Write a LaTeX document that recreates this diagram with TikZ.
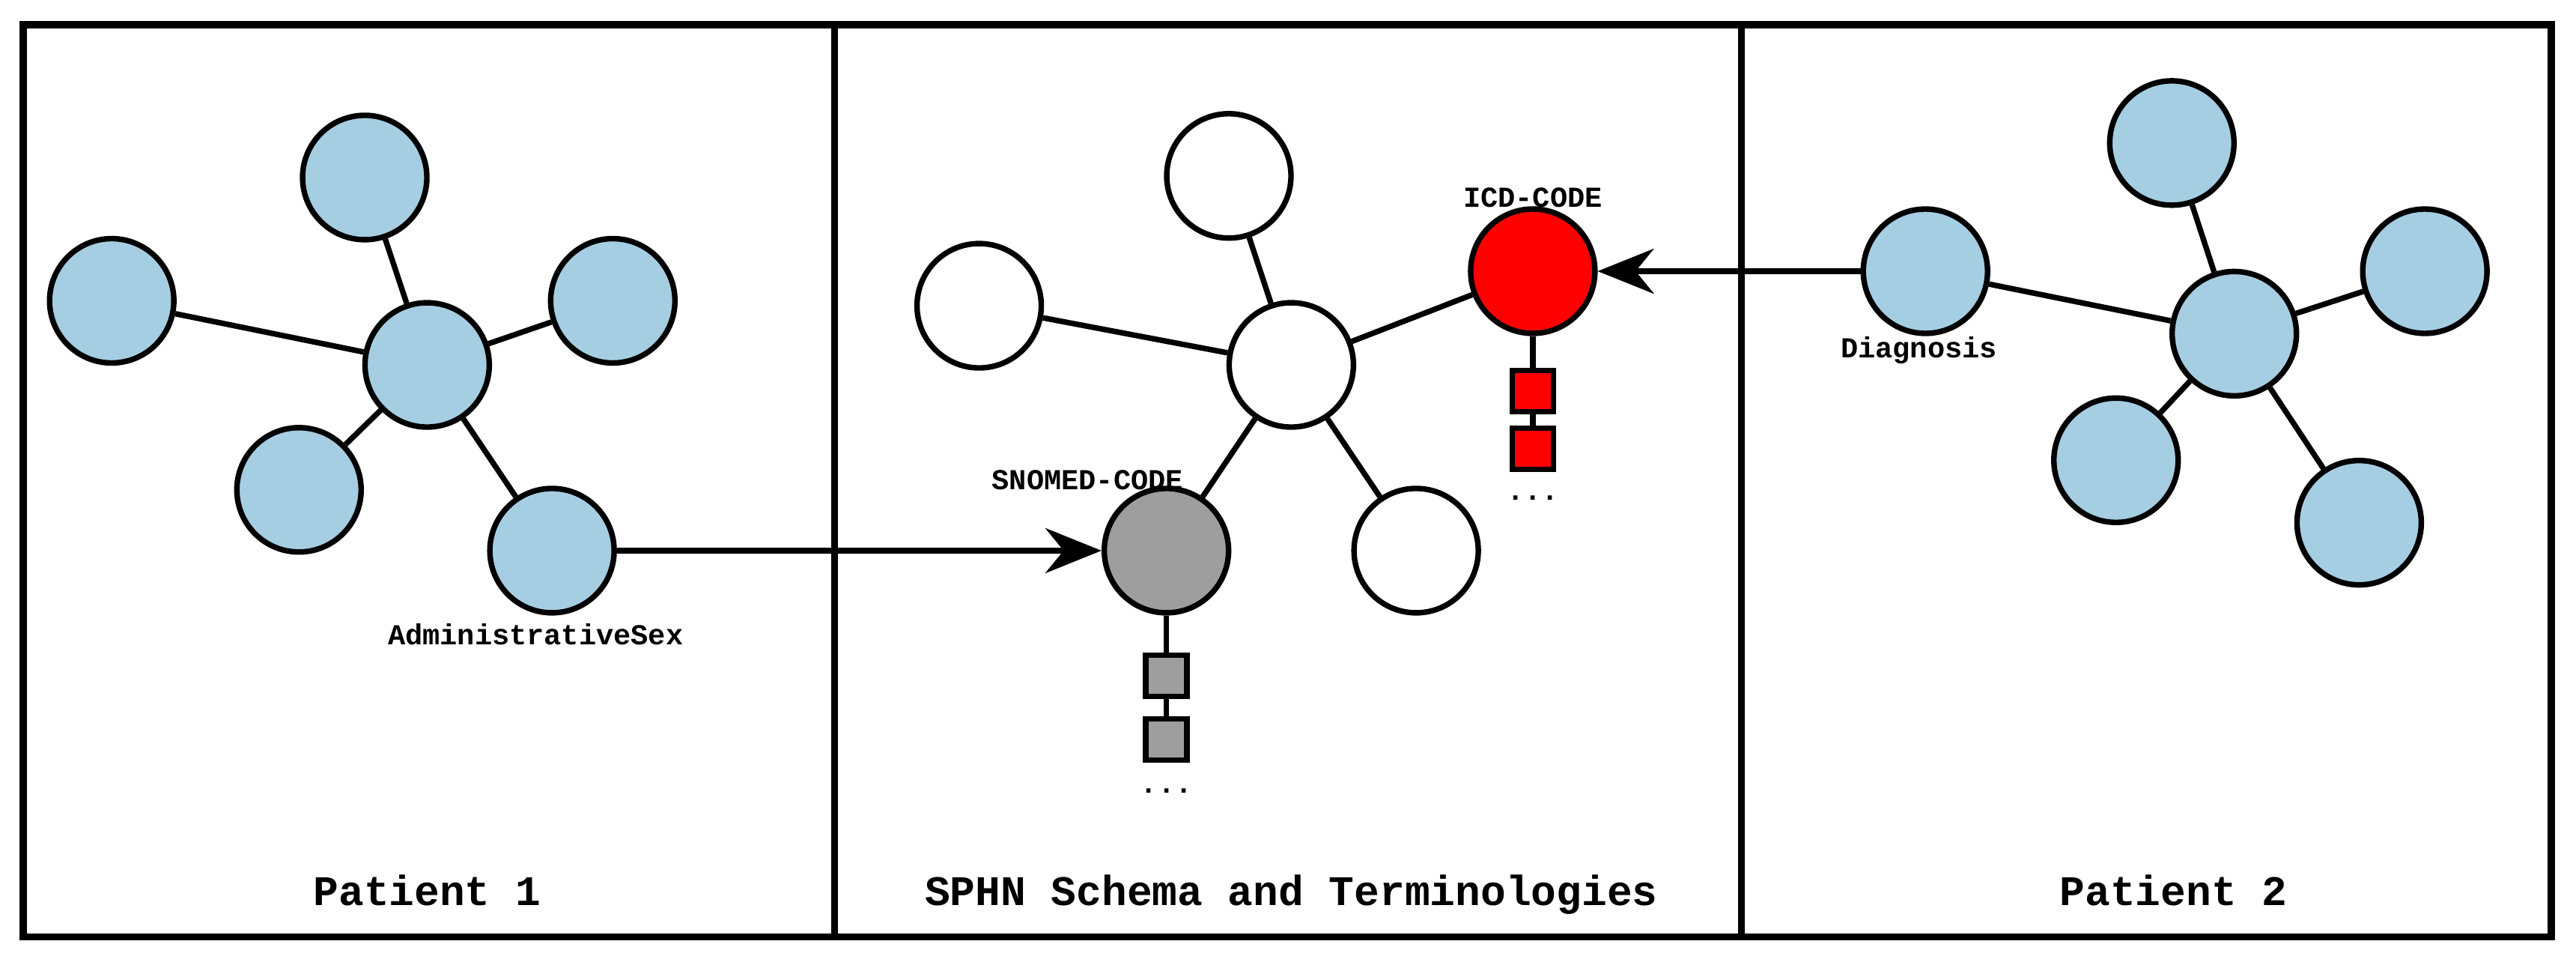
\documentclass[tikz,border=0pt]{standalone}
\usepackage{fontspec}
\setmonofont{Liberation Mono}
\usetikzlibrary{arrows.meta}
\definecolor{lb}{HTML}{A6CEE3}
\definecolor{gr}{HTML}{9E9E9E}
\begin{document}
\begin{tikzpicture}[x=0.02194cm,y=-0.02194cm,line width=2.1pt,
  n/.style={circle,draw,minimum size=1.66cm,inner sep=0pt},
  b/.style={n,fill=lb},
  w/.style={n,fill=white},
  sq/.style={draw,minimum size=0.55cm,inner sep=0pt},
  lab/.style={font=\ttfamily\bfseries\fontsize{11}{13}\selectfont},
  big/.style={font=\ttfamily\bfseries\fontsize{16}{19}\selectfont,anchor=base},
  arr/.style={-{Stealth[length=0.75cm,width=0.6cm]}}]
\useasboundingbox (0,0) rectangle (1568,585);
\draw[line width=2.8pt] (14,15) rectangle (1553,570);
\draw[line width=2.8pt] (508,15) -- (508,570) (1060,15) -- (1060,570);
% Patient 1
\node[b] (p1h) at (260,222) {};
\foreach \n/\x/\y in {p1a/222/108,p1b/68/183,p1c/373/183,p1d/182/298,p1e/336/335}{
  \node[b] (\n) at (\x,\y) {}; \draw (p1h) -- (\n);}
% Middle
\node[w] (mh) at (786,222) {};
\node[w] (ma) at (748,107) {};
\node[w] (mb) at (596,186) {};
\node[n,fill=red] (red) at (933,165) {};
\node[w] (mc) at (862,335) {};
\node[n,fill=gr] (gray) at (710,335) {};
\foreach \n in {ma,mb,red,mc,gray} \draw (mh) -- (\n);
\node[sq,fill=red] (r1) at (933,238) {};
\node[sq,fill=red] (r2) at (933,273) {};
\node[lab] (rd) at (933,303) {...};
\draw (red) -- (r1) (r1) -- (r2);
\node[sq,fill=gr] (g1) at (710,411) {};
\node[sq,fill=gr] (g2) at (710,450) {};
\node[lab] (gd) at (710,481) {...};
\draw (gray) -- (g1) (g1) -- (g2);
% Patient 2
\node[b] (p2h) at (1360,203) {};
\foreach \n/\x/\y in {p2a/1322/87,p2b/1476/165,p2c/1172/165,p2d/1288/280,p2e/1436/318}{
  \node[b] (\n) at (\x,\y) {}; \draw (p2h) -- (\n);}
% labels
\node[lab] (l1) at (933,120) {ICD-CODE};
\node[lab] (l2) at (662,292) {SNOMED-CODE};
\node[lab] (l3) at (326,386) {AdministrativeSex};
\node[lab] (l4) at (1168,213) {Diagnosis};
\draw[arr] (p1e) -- (gray);
\draw[arr] (p2c) -- (red);
\node[big] (t1) at (260,551) {Patient 1};
\node[big] (t2) at (786,551) {SPHN Schema and Terminologies};
\node[big] (t3) at (1323,551) {Patient 2};
\end{tikzpicture}
\end{document}
